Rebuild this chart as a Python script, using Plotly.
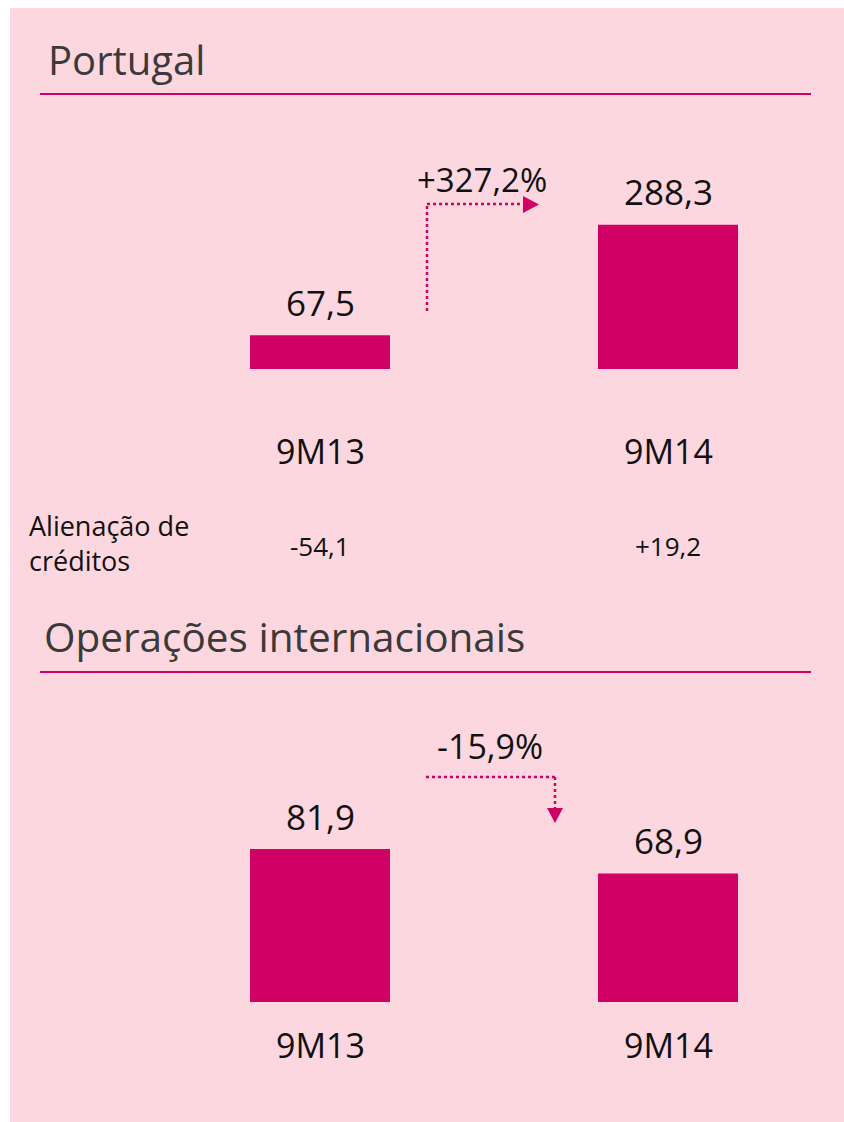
import plotly.graph_objects as go

# --- data -------------------------------------------------------------
periods = ["9M13", "9M14"]
portugal_values = [67.5, 288.3]
portugal_value_labels = ["67,5", "288,3"]
portugal_change = "+327,2%"
credit_sale_label = "Alienação de<br>créditos"
credit_sale_values = ["-54,1", "+19,2"]

intl_values = [81.9, 68.9]
intl_value_labels = ["81,9", "68,9"]
intl_change = "-15,9%"

section_titles = ["Portugal", "Operações internacionais"]

# --- style ------------------------------------------------------------
W, H = 844, 1122
MAGENTA = "#D00064"
PANEL = "#FDD7DF"
TITLE_GREY = "#3A3A3A"
INK = "#111111"
FONT = "Open Sans"


def px(x):
    return x / W


def py(y):
    return 1 - y / H


fig = go.Figure()

fig.add_trace(go.Bar(x=[0, 1], y=portugal_values, width=0.4023,
                     marker=dict(color=MAGENTA, line=dict(width=0)),
                     xaxis="x", yaxis="y", hoverinfo="skip"))
fig.add_trace(go.Bar(x=[0, 1], y=intl_values, width=0.4023,
                     marker=dict(color=MAGENTA, line=dict(width=0)),
                     xaxis="x2", yaxis="y2", hoverinfo="skip"))

ann = []
# value labels above each bar
for i, (v, t) in enumerate(zip(portugal_values, portugal_value_labels)):
    ann.append(dict(x=i, y=v, xref="x", yref="y", text=t, showarrow=False,
                    yanchor="middle", yshift=33,
                    font=dict(size=35, color=INK, family=FONT)))
for i, (v, t) in enumerate(zip(intl_values, intl_value_labels)):
    ann.append(dict(x=i, y=v, xref="x2", yref="y2", text=t, showarrow=False,
                    yanchor="middle", yshift=33,
                    font=dict(size=35, color=INK, family=FONT)))

# period labels under the bars
for i, p in enumerate(periods):
    ann.append(dict(x=i, y=py(451), xref="x", yref="paper", text=p,
                    showarrow=False, yanchor="middle",
                    font=dict(size=34, color=INK, family=FONT)))
    ann.append(dict(x=i, y=py(1045), xref="x2", yref="paper", text=p,
                    showarrow=False, yanchor="middle",
                    font=dict(size=34, color=INK, family=FONT)))

# credit sale row
ann.append(dict(x=px(27), y=py(543), xref="paper", yref="paper",
                text=credit_sale_label, showarrow=False, xanchor="left",
                yanchor="middle", align="left",
                font=dict(size=27, color=INK, family=FONT)))
for i, t in enumerate(credit_sale_values):
    ann.append(dict(x=i, y=py(546), xref="x", yref="paper", text=t,
                    showarrow=False, yanchor="middle",
                    font=dict(size=26, color=INK, family=FONT)))

# section titles
ann.append(dict(x=px(46), y=py(60), xref="paper", yref="paper",
                text=section_titles[0], showarrow=False, xanchor="left",
                yanchor="middle", font=dict(size=40, color=TITLE_GREY, family=FONT)))
ann.append(dict(x=px(42), y=py(636), xref="paper", yref="paper",
                text=section_titles[1], showarrow=False, xanchor="left",
                yanchor="middle", font=dict(size=40.5, color=TITLE_GREY, family=FONT)))

# change labels
ann.append(dict(x=px(482), y=py(179), xref="paper", yref="paper",
                text=portugal_change, showarrow=False, yanchor="middle",
                font=dict(size=33, color=INK, family=FONT)))
ann.append(dict(x=px(490), y=py(746), xref="paper", yref="paper",
                text=intl_change, showarrow=False, yanchor="middle",
                font=dict(size=34, color=INK, family=FONT)))

shapes = []
# panel background
shapes.append(dict(type="rect", xref="paper", yref="paper",
                   x0=px(10), x1=1, y0=0, y1=py(8),
                   fillcolor=PANEL, line=dict(width=0), layer="below"))
# title rules
for y in (94, 672):
    shapes.append(dict(type="line", xref="paper", yref="paper",
                       x0=px(40), x1=px(811), y0=py(y), y1=py(y),
                       line=dict(color=MAGENTA, width=2)))

dotted = dict(color=MAGENTA, width=2.5, dash="3px,3px")


def seg(x0, y0, x1, y1):
    return dict(type="line", xref="paper", yref="paper",
                x0=px(x0), x1=px(x1), y0=py(y0), y1=py(y1), line=dotted)


def tri(pts):
    d = "M " + " L ".join(f"{px(x)},{py(y)}" for x, y in pts) + " Z"
    return dict(type="path", xref="paper", yref="paper", path=d,
                fillcolor=MAGENTA, line=dict(width=0))


# growth connector (up then right)
shapes.append(seg(427, 311, 427, 204))
shapes.append(seg(427, 204, 523, 204))
shapes.append(tri([(523, 196), (539, 204.5), (523, 213)]))
# decline connector (right then down)
shapes.append(seg(426, 777, 555, 777))
shapes.append(seg(555, 777, 555, 808))
shapes.append(tri([(547, 808), (563, 808), (555, 823)]))

axis_off = dict(visible=False, fixedrange=True)
fig.update_layout(
    width=W, height=H,
    margin=dict(l=0, r=0, t=0, b=0),
    paper_bgcolor="white", plot_bgcolor="rgba(0,0,0,0)",
    showlegend=False,
    xaxis=dict(domain=[px(146), px(842)], range=[-0.5, 1.5], anchor="y", **axis_off),
    yaxis=dict(domain=[py(369), py(129)], range=[0, 480], anchor="x", **axis_off),
    xaxis2=dict(domain=[px(146), px(842)], range=[-0.5, 1.5], anchor="y2", **axis_off),
    yaxis2=dict(domain=[py(1002), py(722)], range=[0, 150], anchor="x2", **axis_off),
    annotations=ann,
    shapes=shapes,
)

fig.write_html("out.html", config={"displayModeBar": False})
